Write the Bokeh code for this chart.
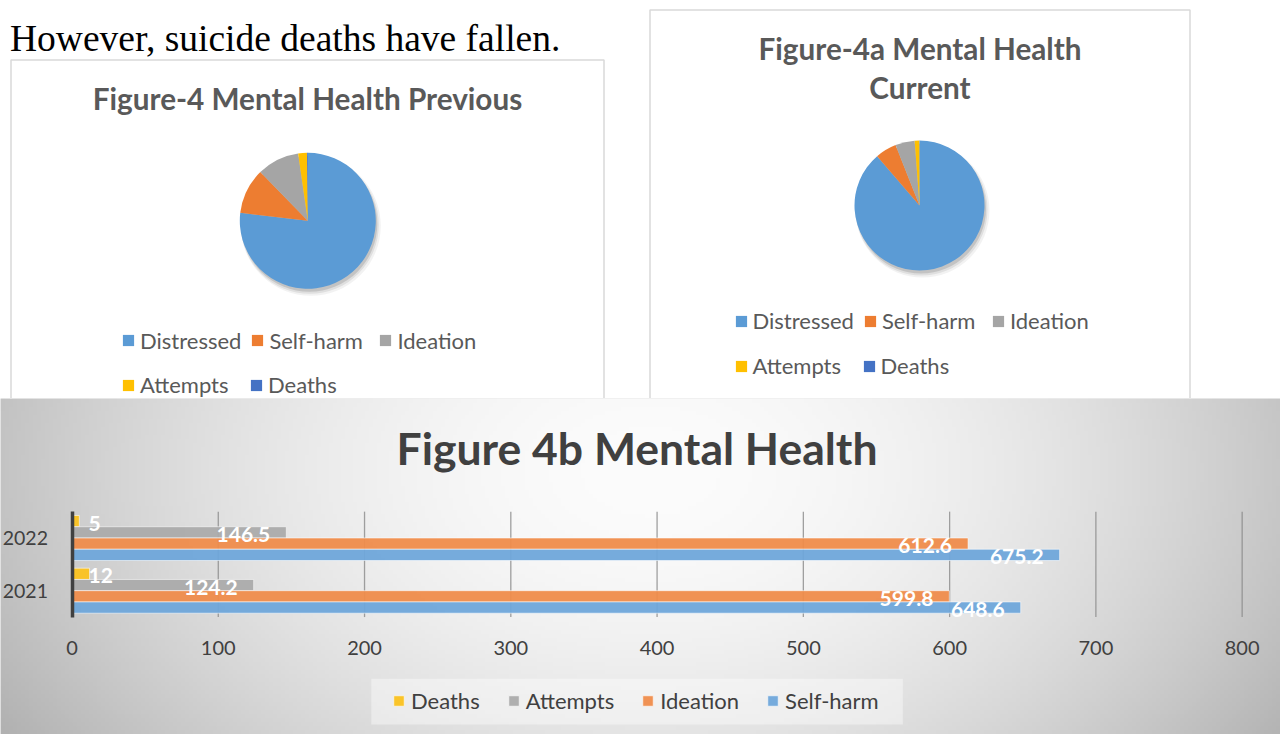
import numpy as np
from bokeh.plotting import figure
from bokeh.models import Range1d, Legend, LegendItem, Label, ColumnDataSource, FixedTicker
from bokeh.layouts import column
from bokeh.embed import file_html
from bokeh.resources import INLINE
from bokeh.core.properties import value
from bokeh.transform import dodge

# ---------------- data ----------------
heading = "However, suicide deaths have fallen."

pie_categories = ["Distressed", "Self-harm", "Ideation", "Attempts", "Deaths"]
pie_previous = [4600, 648.6, 599.8, 124.2, 12]
pie_current = [11300, 675.2, 612.6, 146.5, 5]
pie_colors = ["#5b9bd5", "#ed7d31", "#a5a5a5", "#ffc000", "#4472c4"]
title_previous = "Figure-4 Mental Health Previous"
title_current = ["Figure-4a Mental Health", "Current"]

title_bar = "Figure 4b Mental Health"
years = [2021, 2022]
bar_series = ["Deaths", "Attempts", "Ideation", "Self-harm"]
deaths = [12, 5]
attempts = [124.2, 146.5]
ideation = [599.8, 612.6]
self_harm = [648.6, 675.2]
bar_colors = ["#fbc21f", "#ababab", "#ef8c4b", "#6fa6da"]
x_ticks = [0, 100, 200, 300, 400, 500, 600, 700, 800]

FONT = "Lato"
W = 1280
TOP_H = 398
BOT_H = 336

# ---------------- top: two pie panels ----------------
top = figure(width=W, height=TOP_H, x_range=Range1d(0, W), y_range=Range1d(-TOP_H, 0),
             output_backend="svg", toolbar_location=None, min_border=0,
             x_axis_location=None, y_axis_location=None)
top.grid.visible = False
top.outline_line_color = None
top.background_fill_color = "white"
top.border_fill_color = "white"

# panel frames
top.quad(left=[10.5, 649.5], right=[603.5, 1189.5], top=[-59.5, -9.5], bottom=[-402, -402],
         fill_color="white", line_color="#d9d9d9", line_width=1.5)

top.add_layout(Label(x=9.5, y=-37.7, text=heading, text_font="Liberation Serif",
                     text_font_size="37.5px", text_color="black", text_baseline="alphabetic"))


def add_title(fig, text, x, y):
    fig.add_layout(Label(x=x, y=y, text=text, text_font=FONT, text_font_style="bold",
                         text_font_size="29.7px", text_color="#595959",
                         text_align="center", text_baseline="middle"))


add_title(top, title_previous, 307, -98.2)
add_title(top, title_current[0], 919.5, -47.5)
add_title(top, title_current[1], 919.5, -86.8)


def draw_pie(fig, vals, cx, cy, r):
    v = np.array(vals, dtype=float)
    frac = v / v.sum()
    cum = np.concatenate([[0.0], np.cumsum(frac)])
    start = np.pi / 2 - cum[:-1] * 2 * np.pi
    end = np.pi / 2 - cum[1:] * 2 * np.pi
    src = ColumnDataSource(dict(cat=pie_categories, start=start, end=end, color=pie_colors))
    # soft drop shadow
    for dx, dy, grow, a in [(3, -5, 4, 0.05), (2, -4, 2, 0.08), (1.5, -3, 0, 0.12)]:
        fig.scatter(x=[cx + dx], y=[cy + dy], size=2 * r + grow, marker="circle",
                    fill_color="black", fill_alpha=a, line_color=None)
    wr = fig.wedge(x=cx, y=cy, radius=r, radius_units="screen", start_angle="start",
                   end_angle="end", direction="clock", fill_color="color",
                   line_color=None, source=src)
    return wr


def pie_legend(fig, wr, idxs, x, y):
    items = [LegendItem(label=pie_categories[i], renderers=[wr], index=i) for i in idxs]
    lg = Legend(items=items, location=(x, y), orientation="horizontal",
                glyph_width=14, glyph_height=14, label_standoff=5, spacing=9,
                label_width=100, padding=0, margin=0, background_fill_alpha=0,
                border_line_color=None, label_text_font=FONT,
                label_text_font_size="22px", label_text_color="#595959")
    fig.add_layout(lg)


wr_prev = draw_pie(top, pie_previous, 307.3, -220.3, 68)
wr_cur = draw_pie(top, pie_current, 919, -205, 65)

pie_legend(top, wr_prev, [0, 1, 2], 121, 44.5)
pie_legend(top, wr_prev, [3, 4], 121, 0)
pie_legend(top, wr_cur, [0, 1, 2], 733.5, 64)
pie_legend(top, wr_cur, [3, 4], 733.5, 19)

# ---------------- bottom: bar chart ----------------
PAGE_TOP = TOP_H
px_per_unit = 1.4627
zero_px = 71.5
ppy = 52.7
y2021_px = 590.2


def px2x(px):
    return (px - zero_px) / px_per_unit


def py2y(py):
    return years[0] - (py - y2021_px) / ppy


x0, x1 = px2x(0), px2x(W)
y_top, y_bot = py2y(PAGE_TOP), py2y(PAGE_TOP + BOT_H)

bot = figure(width=W, height=BOT_H, x_range=Range1d(x0, x1), y_range=Range1d(y_bot, y_top),
             output_backend="svg", toolbar_location=None, min_border=0)
bot.grid.visible = False
bot.outline_line_color = None
bot.background_fill_color = "#dedede"
bot.border_fill_color = "#dedede"

# radial grey background
GH, GW = 84, 320
gx = np.linspace(0, W, GW)
gy = np.linspace(PAGE_TOP + BOT_H, PAGE_TOP, GH)
GX, GY = np.meshgrid(gx, gy)
rr = np.sqrt(((GX - 650) / 700) ** 2 + ((GY - 470) / 460) ** 2)
gv = np.clip(252 - 64 * rr ** 1.8, 0, 255).astype(np.uint8)
img = np.empty((GH, GW), dtype=np.uint32)
view = img.view(dtype=np.uint8).reshape((GH, GW, 4))
view[..., 0] = gv
view[..., 1] = gv
view[..., 2] = gv
view[..., 3] = 255
bot.image_rgba(image=[img], x=x0, y=y_bot, dw=x1 - x0, dh=y_top - y_bot)

# gridlines limited to the plot band
glines = x_ticks[1:]
bot.segment(x0=glines, x1=glines, y0=[years[0] - 0.5] * len(glines),
            y1=[years[-1] + 0.5] * len(glines), line_color="#8a8a8a", line_width=1.3,
            line_alpha=0.8)

# legend background panel
bot.quad(left=[px2x(370.8)], right=[px2x(902.3)], top=[py2y(678.3)], bottom=[py2y(724)],
         fill_color="white", fill_alpha=0.4, line_color=None)

series_vals = [deaths, attempts, ideation, self_harm]
bh = 0.2135
offsets = [1.5 * bh, 0.5 * bh, -0.5 * bh, -1.5 * bh]
bar_renderers = []
sources = []
for name, vals, col, off in zip(bar_series, series_vals, bar_colors, offsets):
    src = ColumnDataSource(dict(year=years, val=vals, base=[0] * len(vals),
                                lab=[f"{v:g}" for v in vals]))
    sources.append(src)
    r = bot.hbar(y=dodge("year", off), left="base", right="val", height=bh, source=src,
                 fill_color=col, fill_alpha=0.95, line_color="white", line_alpha=0.55,
                 line_width=1)
    bar_renderers.append(r)

# data labels drawn above every bar
for name, src, off in zip(bar_series, sources, offsets):
    if name == "Deaths":
        bot.text(x="base", y=dodge("year", off), text="lab", source=src, text_align="left",
                 x_offset=16.5, y_offset=2, text_baseline="middle", text_color="white",
                 text_font=value(FONT), text_font_style="bold", text_font_size="21px")
    else:
        bot.text(x="val", y=dodge("year", off), text="lab", source=src, text_align="right",
                 x_offset=-16, y_offset=2, text_baseline="middle", text_color="white",
                 text_font=value(FONT), text_font_style="bold", text_font_size="21px")

# axes
xa = bot.xaxis[0]
xa.fixed_location = years[0] - 0.5
xa.ticker = FixedTicker(ticks=x_ticks)
xa.axis_line_color = None
xa.major_tick_line_color = None
xa.minor_tick_line_color = None
xa.major_label_standoff = 18
xa.major_label_text_font = FONT
xa.major_label_text_font_size = "20px"
xa.major_label_text_color = "#404040"

ya = bot.yaxis[0]
ya.fixed_location = 0
ya.ticker = FixedTicker(ticks=years)
ya.bounds = (years[0] - 0.5, years[-1] + 0.5)
ya.axis_line_color = "#404040"
ya.axis_line_width = 3.5
ya.major_tick_line_color = None
ya.minor_tick_line_color = None
ya.major_label_standoff = 18
ya.major_label_text_font = FONT
ya.major_label_text_font_size = "19.5px"
ya.major_label_text_color = "#404040"

bot.add_layout(Label(x=636.5, y=PAGE_TOP + BOT_H - 447.2, x_units="screen", y_units="screen",
                     text=title_bar, text_font=FONT, text_font_style="bold",
                     text_font_size="44.5px", text_color="#404040", text_align="center",
                     text_baseline="middle"))

bleg = Legend(items=[LegendItem(label=n, renderers=[r]) for n, r in zip(bar_series, bar_renderers)],
              location=(392, 20), orientation="horizontal", glyph_width=13, glyph_height=13,
              label_standoff=6, spacing=27, padding=0, margin=0,
              background_fill_alpha=0, border_line_color=None, label_text_font=FONT,
              label_text_font_size="22px", label_text_color="#404040")
bot.add_layout(bleg)

layout = column(top, bot)
open("out.html", "w").write(file_html(layout, INLINE))
